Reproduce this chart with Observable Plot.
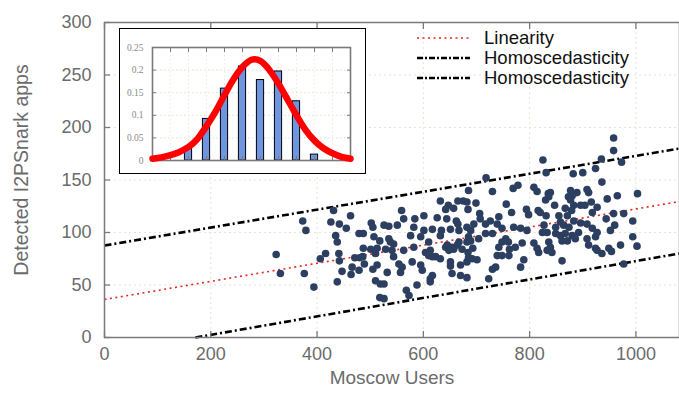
<!DOCTYPE html>
<html><head><meta charset="utf-8">
<script src="https://cdn.jsdelivr.net/npm/d3@7"></script>
<script src="https://cdn.jsdelivr.net/npm/@observablehq/plot@0.6"></script>
<style>
body{margin:0;background:#fff;}
#wrap{position:relative;width:679px;height:395px;overflow:hidden;font-family:"Liberation Sans",Arial,sans-serif;}
#inset{position:absolute;left:119px;top:28px;}
#inset svg{display:block;border:1px solid #000;background:#fff;}
#legend{position:absolute;left:416px;top:28px;font-size:18.5px;color:#111;line-height:20px;}
#legend div{display:flex;align-items:center;height:20px;}
#legend svg{margin-right:14px;}
</style></head><body><div id="wrap"><div id="main"></div><div id="inset"></div><div id="legend"></div></div>
<script>
// ---- main scatter data ----
const moscowUsers = [431,463,373,426,442,455,379,479,487,435,438,502,505,507,323,416,406,441,442,487,501,471,480,486,489,466,479,447,464,331,376,438,394,505,510,510,
632,647,665,675,682,685,657,642,684,559,563,584,601,626,644,662,665,526,535,551,582,601,617,634,651,667,682,518,535,538,544,576,595,610,632,645,654,664,667,682,513,529,541,563,582,604,613,623,632,642,648,657,673,684,544,554,560,579,595,610,617,651,651,670,682,513,532,557,598,617,613,654,670,519,526,568,588,613,518,526,573,
718,730,769,778,808,814,835,830,699,756,706,766,794,798,816,820,831,707,695,717,726,742,739,748,689,717,730,770,783,795,824,827,685,689,704,755,748,760,786,808,814,693,742,762,773,817,833,685,692,701,739,748,761,789,730,736,783,682,723,825,831,
958,958,935,924,900,882,936,877,880,908,911,946,839,836,873,877,889,847,883,896,904,916,927,867,879,855,871,918,958,858,883,896,908,944,849,864,874,892,918,927,952,833,849,858,867,880,861,871,886,908,924,836,839,842,911,924,927,949,936,861,
973,965,1003,977,994,960,994,1002,971,954,977];
const i2pApps = [121,116,111,110,108,104,102,99,99,97,91,109,105,96,79,80,75,80,73,85,84,76,76,77,70,67,64,63,60,61,61,53,48,65,80,54,
130,126,130,130,129,140,123,122,122,121,113,113,116,114,113,111,108,107,106,107,105,102,103,102,103,102,105,92,94,91,89,97,96,91,97,88,86,88,91,91,85,84,83,83,86,81,83,77,75,86,83,84,84,81,77,70,67,72,69,78,77,72,68,69,72,69,62,62,64,59,56,61,59,51,51,45,50,53,38,37,40,
152,139,142,145,143,139,137,131,128,127,118,119,122,117,121,119,116,113,108,108,111,115,108,104,102,99,99,105,104,102,100,107,96,92,94,94,91,91,90,90,85,85,86,84,86,81,83,76,75,74,78,78,78,74,65,67,67,57,56,169,157,
190,178,170,161,157,156,148,140,135,141,138,132,138,134,134,131,138,126,126,126,126,129,124,123,121,116,116,119,118,110,111,109,108,113,105,107,105,100,104,100,102,100,99,97,99,97,92,92,94,94,96,91,86,81,88,85,83,85,80,73,
167,135,137,118,111,107,96,87,88,82,70];

// fitted guide lines (endpoints)
const linearityX = [0, 1082];
const linearityY = [36.2, 129.5];
const homoUpperX = [0, 1082];
const homoUpperY = [87.6, 180];
const homoLowerX = [171, 1082];
const homoLowerY = [0, 80];

const xTicks = [0, 200, 400, 600, 800, 1000];
const yTicks = [0, 50, 100, 150, 200, 250, 300];
const xLabel = ["Moscow Users"];
const yLabel = ["Detected I2PSnark apps"];
const legendLabels = ["Linearity", "Homoscedasticity", "Homoscedasticity"];

// ---- inset histogram ----
const insetBins = [2, 3, 4, 5, 6, 7, 8, 9];
const insetFreq = [0.027, 0.092, 0.159, 0.208, 0.178, 0.197, 0.131, 0.013];
const curveX = [0,0.5,1,1.5,2,2.5,3,3.5,4,4.5,5,5.5,6,6.5,7,7.5,8,8.5,9,9.5,10,10.5,11];
const curveY = [0.004,0.007,0.012,0.019,0.030,0.048,0.076,0.108,0.145,0.180,0.207,0.223,0.220,0.200,0.170,0.135,0.100,0.068,0.044,0.027,0.016,0.008,0.004];
const insetYTicks = [0, 0.05, 0.1, 0.15, 0.2, 0.25];
const insetXTicks = [1,2,3,4,5,6,7,8,9,10];

const pts = moscowUsers.map((x, i) => ({x, y: i2pApps[i]}));
const seg = (xs, ys) => xs.map((x, i) => ({x, y: ys[i]}));
const GRID = "#e6e4d4";
const AX = "#7a7a7a";
const dashDot = "7,3,2,3";

const main = Plot.plot({
  width: 679, height: 395,
  marginLeft: 104, marginRight: 0, marginTop: 22, marginBottom: 58,
  x: {domain: [0, 1082]},
  y: {domain: [0, 300]},
  style: {fontFamily: '"Liberation Sans", Arial, sans-serif', fontSize: "18px", color: "#6b6b6b", background: "#fff", overflow: "visible"},
  marks: [
    Plot.gridX({ticks: xTicks, stroke: GRID, strokeOpacity: 1, strokeDasharray: "2,3"}),
    Plot.gridY({ticks: yTicks, stroke: GRID, strokeOpacity: 1, strokeDasharray: "2,3"}),
    Plot.line(seg(linearityX, linearityY), {x: "x", y: "y", stroke: "#e8251e", strokeWidth: 1.6, strokeDasharray: "2,3.5", strokeLinecap: "butt"}),
    Plot.line(seg(homoUpperX, homoUpperY), {x: "x", y: "y", stroke: "#000", strokeWidth: 2.6, strokeDasharray: dashDot, strokeLinecap: "butt"}),
    Plot.line(seg(homoLowerX, homoLowerY), {x: "x", y: "y", stroke: "#000", strokeWidth: 2.6, strokeDasharray: dashDot, strokeLinecap: "butt"}),
    Plot.dot(pts, {x: "x", y: "y", r: 3.8, fill: "#2d3f60", stroke: "none"}),
    Plot.frame({stroke: AX, strokeWidth: 1.5}),
    Plot.axisX({ticks: xTicks, anchor: "bottom", tickSize: 0, tickPadding: 10, tickFormat: d => String(d), label: null}),
    Plot.axisY({ticks: yTicks, anchor: "left", tickSize: 0, tickPadding: 13, tickFormat: d => String(d), label: null}),
    Plot.axisX({ticks: xTicks, anchor: "bottom", tickSize: -6, tickFormat: () => "", label: null, stroke: AX, strokeWidth: 1.3}),
    Plot.axisX({ticks: xTicks, anchor: "top", tickSize: -6, tickFormat: () => "", label: null, stroke: AX, strokeWidth: 1.3}),
    Plot.axisY({ticks: yTicks, anchor: "left", tickSize: -6, tickFormat: () => "", label: null, stroke: AX, strokeWidth: 1.3}),
    Plot.text(xLabel, {text: d => d, frameAnchor: "bottom", dy: 46, fontSize: 19, fill: "#6b6b6b"}),
    Plot.text(yLabel, {text: d => d, frameAnchor: "left", dx: -83, dy: -10, rotate: -90, textAnchor: "middle", fontSize: 19.5, fill: "#6b6b6b"})
  ]
});
document.getElementById("main").appendChild(main);

const inset = Plot.plot({
  width: 245, height: 144,
  marginLeft: 32, marginRight: 15, marginTop: 18, marginBottom: 13,
  x: {domain: [0, 11]},
  y: {domain: [0, 0.25]},
  style: {fontFamily: '"Liberation Serif", "Times New Roman", serif', fontSize: "9.5px", color: "#8a8a8a", background: "#fff", overflow: "visible"},
  marks: [
    Plot.gridX({ticks: insetXTicks, stroke: "#eceadf", strokeOpacity: 1, strokeDasharray: "1.5,2.5"}),
    Plot.gridY({ticks: insetYTicks, stroke: "#e2dfcc", strokeOpacity: 1, strokeDasharray: "1.5,2.5"}),
    Plot.rectY(insetBins.map((b, i) => ({b, f: insetFreq[i]})), {x1: d => d.b - 0.2, x2: d => d.b + 0.2, y1: 0, y2: "f", fill: "#6f94e0", stroke: "#000", strokeWidth: 1}),
    Plot.frame({stroke: AX, strokeWidth: 1.6}),
    Plot.axisY({ticks: insetYTicks, anchor: "left", tickSize: 0, tickPadding: 9, tickFormat: d => String(d), label: null}),
    Plot.axisY({ticks: insetYTicks, anchor: "left", tickSize: -4, tickFormat: () => "", label: null, stroke: AX}),
    Plot.axisY({ticks: insetYTicks, anchor: "right", tickSize: -4, tickFormat: () => "", label: null, stroke: AX}),
    Plot.axisX({ticks: insetXTicks, anchor: "top", tickSize: -4, tickFormat: () => "", label: null, stroke: AX}),
    Plot.axisX({ticks: insetXTicks, anchor: "bottom", tickSize: -4, tickFormat: () => "", label: null, stroke: AX}),
    Plot.line(seg(curveX, curveY), {x: "x", y: "y", stroke: "#ff0000", strokeWidth: 6.5, curve: "natural", strokeLinecap: "round", strokeLinejoin: "round"})
  ]
});
document.getElementById("inset").appendChild(inset);

// legend
const legendStyles = [
  {stroke: "#e8251e", w: 1.5, dash: "2,3.5"},
  {stroke: "#000", w: 2.6, dash: "6,2,2,2"},
  {stroke: "#000", w: 2.6, dash: "6,2,2,2"}
];
const leg = document.getElementById("legend");
legendLabels.forEach((lab, i) => {
  const row = document.createElement("div");
  const s = legendStyles[i];
  row.innerHTML = `<svg width="54" height="20"><line x1="1" x2="54" y1="10" y2="10" stroke="${s.stroke}" stroke-width="${s.w}" stroke-dasharray="${s.dash}"/></svg><span>${lab}</span>`;
  leg.appendChild(row);
});
</script></body></html>
